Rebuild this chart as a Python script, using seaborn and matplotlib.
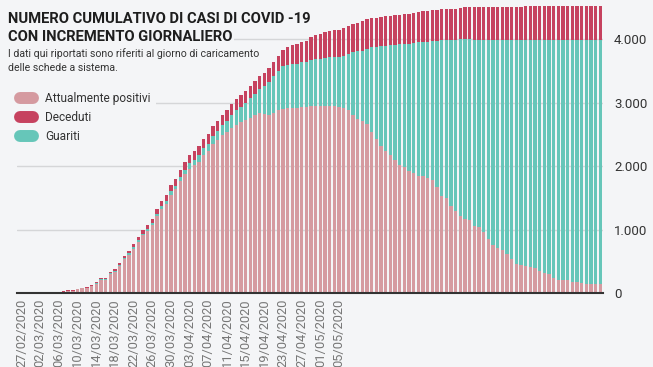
import matplotlib

matplotlib.use("Agg")

import matplotlib.pyplot as plt
import pandas as pd
import seaborn as sns
from matplotlib.lines import Line2D

# one bar per day, from 27/02/2020 to 30/06/2020
START_DATE = "2020-02-27"
N_DAYS = 125
LAST_LABELLED_DAY = 68  # tick labels stop at 05/05/2020

# Attualmente positivi (bottom of the stack)
positivi = [
    0, 0, 0, 0, 0, 0, 0, 0, 20, 22,                     # 0
    36, 36, 57, 71, 85, 105, 145, 205, 205, 305,        # 10
    338, 428, 530, 605, 700, 810, 909, 980, 1066, 1214,  # 20
    1328, 1398, 1549, 1634, 1758, 1879, 1960, 2010, 2064, 2173,  # 30
    2232, 2343, 2413, 2493, 2537, 2606, 2650, 2692, 2724, 2763,  # 40
    2797, 2832, 2820, 2811, 2833, 2879, 2901, 2908, 2915, 2917,  # 50
    2924, 2929, 2941, 2944, 2950, 2950, 2945, 2940, 2935, 2913,  # 60
    2887, 2808, 2735, 2716, 2666, 2540, 2420, 2320, 2244, 2178,  # 70
    2099, 2010, 1985, 1920, 1890, 1840, 1836, 1805, 1784, 1669,  # 80
    1521, 1500, 1378, 1285, 1206, 1170, 1154, 1049, 1040, 965,   # 90
    848, 750, 716, 676, 619, 540, 461, 435, 419, 407,            # 100
    400, 354, 315, 302, 244, 209, 209, 208, 174, 173,            # 110
    157, 143, 142, 142, 142,                                     # 120
]

# Guariti (middle of the stack)
guariti = [
    0, 0, 0, 0, 0, 0, 0, 0, 0, 0,                       # 0
    0, 0, 0, 0, 0, 8, 8, 8, 8, 8,                       # 10
    10, 12, 15, 18, 22, 24, 26, 28, 30, 34,             # 20
    38, 44, 50, 56, 63, 63, 84, 90, 105, 110,           # 30
    120, 125, 140, 150, 175, 200, 230, 236, 263, 310,   # 40
    340, 380, 445, 520, 585, 615, 680, 690, 696, 698,   # 50
    708, 710, 730, 735, 737, 755, 772, 777, 785, 827,   # 60
    883, 992, 1071, 1104, 1184, 1328, 1453, 1564, 1646, 1722,    # 70
    1811, 1905, 1936, 2005, 2047, 2107, 2122, 2153, 2184, 2299,  # 80
    2458, 2479, 2602, 2704, 2789, 2825, 2841, 2931, 2940, 3015,  # 90
    3132, 3230, 3264, 3304, 3361, 3440, 3519, 3545, 3561, 3573,  # 100
    3580, 3626, 3665, 3678, 3736, 3771, 3771, 3772, 3806, 3807,  # 110
    3823, 3837, 3838, 3838, 3838,                                # 120
]

# Deceduti (top of the stack)
deceduti = [
    0, 0, 0, 0, 0, 0, 0, 0, 3, 3,                       # 0
    4, 4, 6, 7, 9, 12, 15, 18, 18, 22,                  # 10
    25, 32, 38, 43, 50, 56, 62, 68, 74, 80,             # 20
    88, 95, 102, 110, 121, 121, 126, 133, 140, 147,     # 30
    152, 156, 160, 165, 170, 175, 180, 184, 188, 192,   # 40
    196, 200, 205, 212, 220, 232, 250, 270, 295, 300,   # 50
    315, 330, 360, 378, 395, 400, 408, 419, 428, 430,   # 60
    438, 445, 452, 458, 460, 461, 462, 466, 467, 468,   # 70
    469, 470, 472, 474, 476, 478, 478, 480, 487, 489,   # 80
    490, 492, 492, 492, 494, 509, 509, 524, 524, 524,   # 90
    524, 524, 524, 524, 524, 524, 524, 524, 545, 545,   # 100
    545, 545, 545, 545, 545, 545, 545, 545, 545, 545,   # 110
    545, 545, 545, 545, 545,                            # 120
]

Y_TICKS = [0, 1000, 2000, 3000, 4000]
Y_TICK_LABELS = ["0", "1.000", "2.000", "3.000", "4.000"]

BG = "#f4f5f7"
COL_POS = "#d59aa0"
COL_DEC = "#c6425f"
COL_GUA = "#66c6b9"

assert len(positivi) == len(guariti) == len(deceduti) == N_DAYS

days = pd.date_range(START_DATE, periods=N_DAYS, freq="D")
df = pd.DataFrame({
    "day": range(N_DAYS),
    "positivi": positivi,
    "guariti": guariti,
    "deceduti": deceduti,
})
df["pos_gua"] = df["positivi"] + df["guariti"]
df["totale"] = df["pos_gua"] + df["deceduti"]

sns.set_theme(style="white")
plt.rcParams["font.family"] = ["Roboto", "DejaVu Sans"]

fig = plt.figure(figsize=(6.53, 3.67), dpi=100, facecolor=BG)
ax = fig.add_axes([17 / 653, 74 / 367, 586 / 653, 292 / 367])
ax.set_facecolor(BG)

# layered bars: total (red) behind, positivi+guariti (teal), positivi (pink) in front
for col, color in [("totale", COL_DEC), ("pos_gua", COL_GUA), ("positivi", COL_POS)]:
    sns.barplot(data=df, x="day", y=col, color=color, width=0.72,
                errorbar=None, linewidth=0, saturation=1, ax=ax, zorder=3)

ax.set_xlim(-0.96, N_DAYS - 0.45)
ax.set_ylim(0, 4600)

for y in Y_TICKS[1:]:
    ax.axhline(y, color="#d5d6d8", lw=1, zorder=1)

ax.yaxis.tick_right()
ax.set_yticks(Y_TICKS)
ax.set_yticklabels(Y_TICK_LABELS, fontsize=9.5, color="#333333")
ax.tick_params(axis="y", length=0, pad=8)

label_days = list(range(0, LAST_LABELLED_DAY + 1, 4))
ax.set_xticks(label_days)
ax.set_xticklabels([days[d].strftime("%d/%m/%Y") for d in label_days],
                   rotation=90, fontsize=9.3, color="#777777")
ax.tick_params(axis="x", length=0, pad=4)
ax.set_xlabel("")
ax.set_ylabel("")

for side in ["top", "right", "left"]:
    ax.spines[side].set_visible(False)
ax.spines["bottom"].set_color("#333333")
ax.spines["bottom"].set_linewidth(1.5)
ax.spines["bottom"].set_zorder(4)

title_box = dict(facecolor=BG, edgecolor="none", pad=1)
fig.text(8 / 653, 1 - 12 / 367, "NUMERO CUMULATIVO DI CASI DI COVID -19",
         fontsize=10.6, fontweight="bold", color="#1e1e1e", va="top", bbox=title_box)
fig.text(8 / 653, 1 - 30 / 367, "CON INCREMENTO GIORNALIERO",
         fontsize=10.6, fontweight="bold", color="#1e1e1e", va="top", bbox=title_box)
fig.text(8 / 653, 1 - 48 / 367, "I dati qui riportati sono riferiti al giorno di caricamento\n"
         "delle schede a sistema.", fontsize=7.6, color="#333333", va="top",
         linespacing=1.45)

handles = [Line2D([0], [0], color=c, lw=8.6, solid_capstyle="round")
           for c in [COL_POS, COL_DEC, COL_GUA]]
leg = fig.legend(handles, ["Attualmente positivi", "Deceduti", "Guariti"],
                 loc="upper left", bbox_to_anchor=(9 / 653, 1 - 81 / 367),
                 fontsize=8.6, handlelength=1.15, handletextpad=1.0,
                 labelspacing=0.52, borderpad=0.4, frameon=True,
                 facecolor=BG, edgecolor="none", framealpha=1)
for t in leg.get_texts():
    t.set_color("#333333")

fig.savefig("out.png", dpi=100, facecolor=BG)
